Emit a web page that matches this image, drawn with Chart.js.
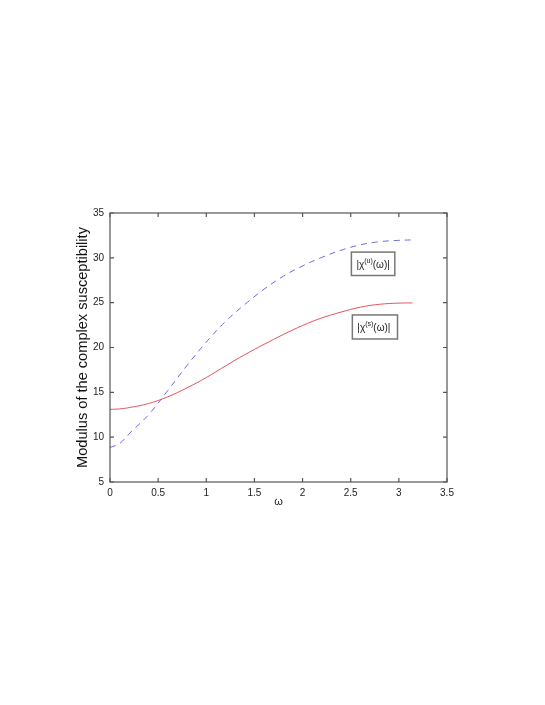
<!DOCTYPE html>
<html>
<head>
<meta charset="utf-8">
<script src="https://cdn.jsdelivr.net/npm/chart.js@4.4.0/dist/chart.umd.min.js"></script>
<style>
  html, body { margin: 0; padding: 0; background: #fff; }
  #wrap { width: 545px; height: 705px; }
</style>
</head>
<body>
<div id="wrap"><canvas id="chart"></canvas></div>
<script>
// frequency samples (omega) and the two moduli
const omega = [0, 0.1, 0.2, 0.4, 0.6, 0.8, 1.0, 1.2, 1.4, 1.6, 1.8, 2.0, 2.2, 2.4, 2.6, 2.8, 3.0, 3.1416];
const chiS = [13.1, 13.15, 13.3, 13.75, 14.5, 15.5, 16.65, 17.95, 19.2, 20.35, 21.45, 22.45, 23.3, 23.95, 24.5, 24.82, 24.95, 24.97];
const chiU = [8.85, 9.3, 10.4, 12.5, 15.2, 18.0, 20.6, 22.9, 24.8, 26.5, 27.95, 29.1, 30.05, 30.85, 31.45, 31.8, 31.95, 32.0];

const xTicks = [0, 0.5, 1, 1.5, 2, 2.5, 3, 3.5];
const yTicks = [5, 10, 15, 20, 25, 30, 35];

const labelU = { sup: 'u', x0: 2.507, x1: 2.958, y0: 30.64, y1: 28.03 };
const labelS = { sup: 's', x0: 2.517, x1: 2.986, y0: 23.63, y1: 20.95 };

const FONT = '"Liberation Sans", Arial, sans-serif';
const pts = (ys) => omega.map((w, i) => ({ x: w, y: ys[i] }));

// box frame with MATLAB style inward ticks
const framePlugin = {
    id: 'frame',
    afterDraw(chart) {
        const { ctx, chartArea: a, scales } = chart;
        ctx.save();
        ctx.strokeStyle = '#555';
        ctx.lineWidth = 1.2;
        ctx.strokeRect(a.left, a.top, a.right - a.left, a.bottom - a.top);
        ctx.beginPath();
        xTicks.forEach(v => {
            const px = scales.x.getPixelForValue(v);
            ctx.moveTo(px, a.bottom); ctx.lineTo(px, a.bottom - 4);
            ctx.moveTo(px, a.top); ctx.lineTo(px, a.top + 4);
        });
        yTicks.forEach(v => {
            const py = scales.y.getPixelForValue(v);
            ctx.moveTo(a.left, py); ctx.lineTo(a.left + 4, py);
            ctx.moveTo(a.right, py); ctx.lineTo(a.right - 4, py);
        });
        ctx.stroke();
        ctx.restore();
    }
};

// the two text boxes naming the curves
const labelPlugin = {
    id: 'curveLabels',
    afterDraw(chart) {
        const { ctx, scales } = chart;
        [labelU, labelS].forEach(lb => {
            const l = scales.x.getPixelForValue(lb.x0);
            const r = scales.x.getPixelForValue(lb.x1);
            const t = scales.y.getPixelForValue(lb.y0);
            const b = scales.y.getPixelForValue(lb.y1);
            ctx.save();
            ctx.fillStyle = '#fff';
            ctx.fillRect(l, t, r - l, b - t);
            ctx.strokeStyle = '#777';
            ctx.lineWidth = 1.5;
            ctx.strokeRect(l, t, r - l, b - t);
            ctx.fillStyle = '#222';
            ctx.textBaseline = 'alphabetic';
            const base = (t + b) / 2 + 4;
            let x = l + 5;
            ctx.font = '10px ' + FONT;
            ctx.fillText('|χ', x, base);
            x += ctx.measureText('|χ').width;
            ctx.font = '7px ' + FONT;
            ctx.fillText('(' + lb.sup + ')', x, base - 5);
            x += ctx.measureText('(' + lb.sup + ')').width;
            ctx.font = '10px ' + FONT;
            ctx.fillText('(ω)|', x, base);
            ctx.restore();
        });
    }
};

new Chart(document.getElementById('chart'), {
    type: 'scatter',
    data: {
        datasets: [
            {
                label: '|χ(s)(ω)|',
                data: pts(chiS),
                showLine: true,
                borderColor: '#e4555a',
                borderWidth: 1,
                pointRadius: 0,
                tension: 0.4
            },
            {
                label: '|χ(u)(ω)|',
                data: pts(chiU),
                showLine: true,
                borderColor: '#6b6be6',
                borderWidth: 1,
                borderDash: [6, 5],
                pointRadius: 0,
                tension: 0.4
            }
        ]
    },
    options: {
        responsive: true,
        maintainAspectRatio: false,
        animation: false,
        layout: { padding: { left: 74, top: 213, right: 98, bottom: 196 } },
        plugins: {
            legend: { display: false },
            tooltip: { enabled: false }
        },
        scales: {
            x: {
                type: 'linear',
                min: 0,
                max: 3.5,
                afterBuildTicks: (s) => { s.ticks = xTicks.map(v => ({ value: v })); },
                afterFit: (s) => { s.height = 27; },
                grid: { display: false, drawTicks: false },
                border: { display: false },
                ticks: {
                    padding: 5,
                    color: '#222',
                    font: { family: FONT, size: 10 },
                    maxRotation: 0,
                    callback: (v) => String(v)
                },
                title: {
                    display: true,
                    text: 'ω',
                    color: '#222',
                    font: { family: FONT, size: 11 },
                    padding: { top: 0, bottom: 0 }
                }
            },
            y: {
                min: 5,
                max: 35,
                afterBuildTicks: (s) => { s.ticks = yTicks.map(v => ({ value: v })); },
                afterFit: (s) => { s.width = 36; },
                grid: { display: false, drawTicks: false },
                border: { display: false },
                ticks: {
                    padding: 6,
                    color: '#222',
                    font: { family: FONT, size: 10 },
                    callback: (v) => String(v)
                },
                title: {
                    display: true,
                    text: 'Modulus of the complex susceptibility',
                    color: '#111',
                    font: { family: FONT, size: 14.6 },
                    padding: { top: 0, bottom: 0 }
                }
            }
        }
    },
    plugins: [framePlugin, labelPlugin]
});
</script>
</body>
</html>
